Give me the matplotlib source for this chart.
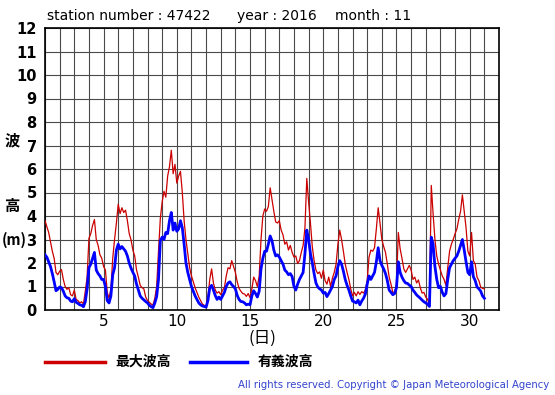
import numpy as np
import matplotlib
matplotlib.use("Agg")
import matplotlib.pyplot as plt
from matplotlib.lines import Line2D
from matplotlib.ticker import MultipleLocator

# ---- data (3-hourly, Nov 2016, station 47422) ----
station = "47422"
year = "2016"
month = "11"

hs = [  # significant wave height (m)
    2.35, 2.25, 2.05, 1.85, 1.55, 1.2, 0.82, 0.88,
    0.98, 0.95, 0.8, 0.6, 0.52, 0.5, 0.38, 0.35,
    0.48, 0.33, 0.28, 0.22, 0.2, 0.14, 0.35, 0.9,
    1.8, 1.95, 2.2, 2.45, 1.7, 1.55, 1.45, 1.3,
    1.3, 1.0, 0.4, 0.3, 0.6, 1.5, 1.8, 2.55,
    2.8, 2.6, 2.7, 2.6, 2.5, 2.3, 2.0, 1.78,
    1.6, 1.45, 1.1, 0.85, 0.6, 0.5, 0.43, 0.36,
    0.3, 0.2, 0.14, 0.1, 0.3, 0.57, 1.3, 2.95,
    3.1, 3.0, 3.3, 3.25, 3.8, 4.15, 3.4, 3.7,
    3.35, 3.45, 3.8, 3.5, 2.8, 2.0, 1.6, 1.3,
    1.0, 0.8, 0.6, 0.45, 0.3, 0.22, 0.17, 0.15,
    0.12, 0.4, 0.95, 1.05, 0.85, 0.62, 0.45, 0.55,
    0.45, 0.6, 0.75, 1.0, 1.15, 1.2, 1.08, 1.0,
    0.9, 0.62, 0.45, 0.36, 0.35, 0.3, 0.22, 0.25,
    0.22, 0.6, 0.82, 0.7, 0.55, 0.8, 1.75, 2.2,
    2.5, 2.5, 2.8, 3.15, 2.95, 2.55, 2.3, 2.35,
    2.25, 2.1, 1.95, 1.7, 1.62, 1.5, 1.55, 1.42,
    1.0, 0.85, 1.1, 1.3, 1.45, 1.6, 2.4, 3.4,
    3.0, 2.4, 2.0, 1.55, 1.15, 0.98, 0.9, 0.85,
    0.72, 0.75, 0.57, 0.7, 0.85, 1.0, 1.3, 1.45,
    1.85, 2.1, 1.95, 1.65, 1.3, 1.05, 0.85, 0.6,
    0.38, 0.35, 0.3, 0.42, 0.22, 0.38, 0.5, 0.68,
    1.1, 1.45, 1.3, 1.45, 1.6, 2.05, 2.65, 2.1,
    1.9, 1.75, 1.55, 1.25, 0.85, 0.75, 0.65, 0.7,
    0.95, 2.05, 1.6, 1.4, 1.25, 1.15, 1.13, 1.06,
    1.0, 0.85, 0.75, 0.64, 0.57, 0.5, 0.42, 0.35,
    0.3, 0.25, 0.15, 3.1, 2.8, 1.85, 1.3, 0.95,
    1.0, 0.75, 0.6, 0.7, 1.3, 1.8, 1.95, 2.1,
    2.2, 2.3, 2.5, 2.75, 3.0, 2.55, 2.05, 1.6,
    1.5, 2.05, 1.42, 1.25, 0.98, 0.9, 0.8, 0.6,
    0.5,
]

hmax = [  # maximum wave height (m)
    3.8, 3.55, 3.3, 2.9, 2.5, 2.2, 1.6, 1.5,
    1.65, 1.72, 1.3, 1.0, 0.88, 0.95, 0.65, 0.6,
    0.85, 0.45, 0.4, 0.3, 0.35, 0.25, 0.8, 1.4,
    3.05, 3.25, 3.6, 3.85, 3.0, 2.75, 2.35, 2.2,
    1.85, 1.7, 0.75, 0.5, 0.9, 2.2, 3.0, 3.7,
    4.5, 4.1, 4.35, 4.15, 4.25, 3.8, 3.25, 2.98,
    2.55, 2.3, 1.7, 1.4, 1.05, 0.95, 0.9, 0.55,
    0.4, 0.33, 0.25, 0.22, 0.5, 1.0, 2.5, 3.9,
    4.6, 5.05, 4.8, 5.7, 6.1, 6.8, 5.8, 6.2,
    5.4, 5.7, 5.9, 5.0, 3.8, 3.0, 2.4, 1.8,
    1.45, 1.2, 0.95, 0.75, 0.55, 0.4, 0.25, 0.2,
    0.15, 0.55, 1.3, 1.75, 1.15, 0.85, 0.72, 0.78,
    0.65, 0.85, 0.95, 1.45, 1.8, 1.75, 2.1, 1.85,
    1.6, 1.2, 0.92, 0.8, 0.7, 0.68, 0.58, 0.7,
    0.52, 0.9, 1.4, 1.25, 1.0, 1.45, 3.0, 4.0,
    4.3, 4.2, 4.4, 5.2, 4.7, 4.2, 3.75, 3.7,
    3.8, 3.4, 3.2, 2.8, 2.9, 2.55, 2.75, 2.45,
    2.25, 2.3, 1.98, 2.1, 2.45, 2.75, 3.5, 5.6,
    4.6, 3.7, 2.7, 2.1, 1.7, 1.55, 1.62, 1.35,
    1.7, 1.25, 1.1, 1.4, 1.0, 1.35, 1.6, 1.95,
    2.8, 3.4, 3.0, 2.5, 1.95, 1.6, 1.3, 0.9,
    0.6, 0.75, 0.6, 0.78, 0.66, 0.78, 0.72, 0.85,
    1.25, 2.25, 2.55, 2.5, 2.65, 3.45, 4.35, 3.7,
    3.0, 2.7, 2.45, 1.95, 1.4, 1.1, 0.75, 0.75,
    1.1, 3.3, 2.6, 2.2, 1.75, 1.6, 1.75, 1.9,
    1.7, 1.3, 1.4, 1.15, 1.28, 0.95, 0.72, 0.75,
    0.55, 0.45, 0.22, 5.3, 4.1, 3.0, 2.3, 1.95,
    1.7, 1.45, 1.3, 1.05, 1.8, 2.5, 2.8, 3.0,
    3.25, 3.45, 3.85, 4.2, 4.9, 4.2, 3.5, 2.5,
    2.3, 3.3, 2.1, 1.95, 1.4, 1.25, 0.98, 0.92,
    0.9,
]

hours = np.arange(len(hs)) * 3          # hours since Nov 1 00:00
day_ticks = [5, 10, 15, 20, 25, 30]
y_ticks = list(range(0, 13))

legend_labels = ["最大波高", "有義波高"]
red = "#cc0000"
blue = "#0000ff"

# ---- figure ----
W, H = 555, 395
fig = plt.figure(figsize=(W / 100, H / 100), dpi=100)
fig.patch.set_facecolor("white")

L, R, T, B = 45, 499, 28, 310
ax = fig.add_axes([L / W, 1 - B / H, (R - L) / W, (B - T) / H])

t_days = 1 + hours / 24.0
ax.plot(t_days, hmax, color=red, lw=0.9, zorder=3)
ax.plot(t_days, hs, color=blue, lw=2.0, zorder=4)

ax.set_xlim(1, 32)
ax.set_ylim(0, 12)
ax.xaxis.set_major_locator(plt.FixedLocator(day_ticks))
ax.xaxis.set_minor_locator(MultipleLocator(1))
ax.yaxis.set_major_locator(plt.FixedLocator(y_ticks))
ax.grid(which="both", axis="x", color="#4a4a4a", lw=0.8, zorder=1)
ax.grid(which="major", axis="y", color="#4a4a4a", lw=0.8, zorder=1)
ax.tick_params(which="both", length=0)
ax.tick_params(axis="x", labelsize=11, pad=3)
ax.tick_params(axis="y", labelsize=10.5, pad=6)
for lab in ax.get_yticklabels():
    lab.set_fontweight("bold")
for sp in ax.spines.values():
    sp.set_color("black")
    sp.set_linewidth(1.2)

cjk = ["Noto Sans CJK JP", "DejaVu Sans"]

# title pieces
fig.text(47 / W, 1 - 16 / H, f"station number : {station}", fontsize=10, va="center", ha="left")
fig.text(237 / W, 1 - 16 / H, f"year : {year}", fontsize=10, va="center", ha="left")
fig.text(335 / W, 1 - 16 / H, f"month : {month}", fontsize=10, va="center", ha="left")

# y label (vertical CJK)
fig.text(12 / W, 1 - 140 / H, "波", family=cjk, fontsize=11, fontweight="bold", ha="center", va="center")
fig.text(12 / W, 1 - 206 / H, "高", family=cjk, fontsize=11, fontweight="bold", ha="center", va="center")
fig.text(14 / W, 1 - 240 / H, "(m)", family=cjk, fontsize=10.5, fontweight="bold", ha="center", va="center")

# x label
fig.text(262 / W, 1 - 338 / H, "(日)", family=cjk, fontsize=12, ha="center", va="center")

# legend
ly = 1 - 362 / H
fig.add_artist(Line2D([45 / W, 105 / W], [ly, ly], color=red, lw=2.5))
fig.text(115 / W, ly, legend_labels[0], family=cjk, fontsize=10, fontweight="bold", va="center", ha="left")
fig.add_artist(Line2D([190 / W, 247 / W], [ly, ly], color=blue, lw=2.5))
fig.text(258 / W, ly, legend_labels[1], family=cjk, fontsize=10, fontweight="bold", va="center", ha="left")

# copyright
fig.text(549 / W, 1 - 385 / H, "All rights reserved. Copyright © Japan Meteorological Agency",
         fontsize=7.3, color="#3344cc", ha="right", va="center")

fig.savefig("out.png", dpi=100, facecolor="white")
